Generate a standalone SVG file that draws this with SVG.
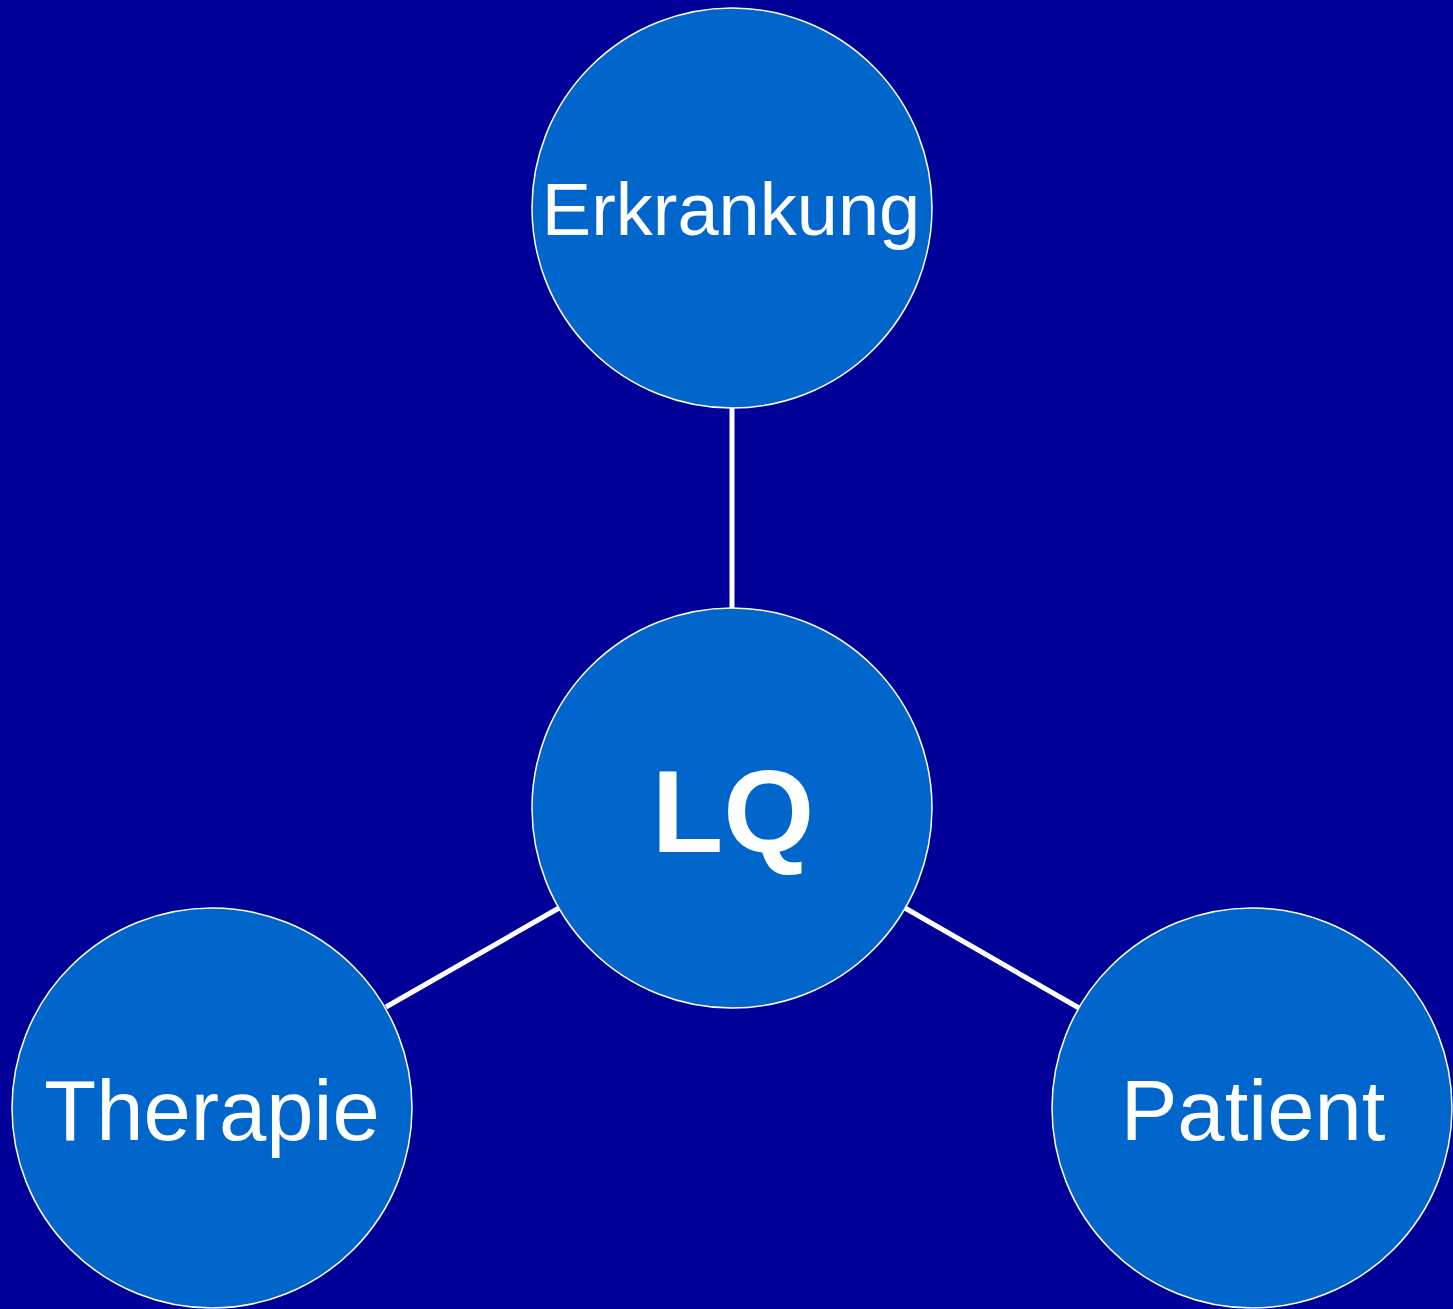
<svg xmlns="http://www.w3.org/2000/svg" width="1453" height="1309" viewBox="0 0 1453 1309">
<style>
.node{fill:#0066CC;stroke:#FFFFFF;stroke-width:1.5}
.lbl{fill:#FFFFFF;font-family:"Liberation Sans",Arial,sans-serif;text-anchor:middle}
.edge{stroke:#FFFFFF;stroke-width:5;fill:none}
</style>
<rect x="0" y="0" width="1453" height="1309" fill="#000099"/>
<g id="connectors">
<line class="edge" x1="732" y1="408" x2="732" y2="608"/>
<line class="edge" x1="559" y1="908" x2="386" y2="1007"/>
<line class="edge" x1="905" y1="908" x2="1079" y2="1008"/>
</g>
<g id="node-erkrankung">
<circle class="node" cx="732" cy="208" r="200"/>
<text class="lbl" x="731" y="235" font-size="74">Erkrankung</text>
</g>
<g id="node-lq">
<circle class="node" cx="732" cy="808" r="200"/>
<text class="lbl" x="733" y="852" font-size="117" font-weight="bold">LQ</text>
</g>
<g id="node-therapie">
<circle class="node" cx="212" cy="1108" r="200"/>
<text class="lbl" x="212" y="1140" font-size="85">Therapie</text>
</g>
<g id="node-patient">
<circle class="node" cx="1252" cy="1108" r="200"/>
<text class="lbl" x="1253" y="1140" font-size="85">Patient</text>
</g>
</svg>
